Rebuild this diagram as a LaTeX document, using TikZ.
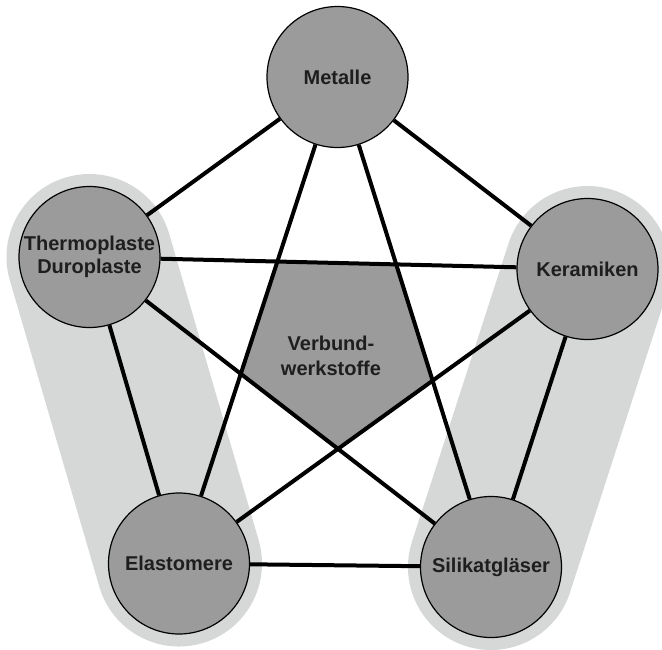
\documentclass[tikz,border=0pt]{standalone}
\usepackage{fontspec}
\setmainfont{Liberation Sans}
\usetikzlibrary{backgrounds}
\definecolor{nodegray}{HTML}{9B9B9B}
\definecolor{capsgray}{HTML}{D6D8D8}
\definecolor{txtgray}{HTML}{1E1E1E}
\begin{document}
\begin{tikzpicture}[x=1pt,y=-1pt,
  mat/.style={circle,draw=black,line width=1.2pt,fill=nodegray,minimum size=141pt,inner sep=0pt,
    align=center,text=txtgray,font=\bfseries\fontsize{20}{23.5}\selectfont},
  link/.style={draw=black,line width=4pt},
  capsule/.style={draw=capsgray,line width=166pt,line cap=round},
  lbl/.style={align=center,text=txtgray,font=\bfseries\fontsize{20}{24.5}\selectfont}]
\useasboundingbox (0,0) rectangle (662,649);
\node[mat] (m) at (337.5,77) {Metalle};
\node[mat] (t) at (89.5,257) {Thermoplaste\\Duroplaste};
\node[mat] (k) at (587.5,269) {Keramiken};
\node[mat] (e) at (179,563.5) {Elastomere};
\node[mat] (s) at (491,567) {Silikatgläser};
\begin{pgfonlayer}{background}
  \draw[capsule] (t.center) -- (e.center);
  \draw[capsule] (k.center) -- (s.center);
  \fill[nodegray]
    (intersection of t.center--k.center and m.center--e.center) --
    (intersection of t.center--k.center and m.center--s.center) --
    (intersection of m.center--s.center and k.center--e.center) --
    (intersection of k.center--e.center and t.center--s.center) --
    (intersection of t.center--s.center and m.center--e.center) -- cycle;
  \draw[link] (m) -- (t);
  \draw[link] (m) -- (k);
  \draw[link] (m) -- (e);
  \draw[link] (m) -- (s);
  \draw[link] (t) -- (k);
  \draw[link] (t) -- (e);
  \draw[link] (t) -- (s);
  \draw[link] (k) -- (e);
  \draw[link] (k) -- (s);
  \draw[link] (e) -- (s);
\end{pgfonlayer}
\node[lbl] (v) at (331,356) {Verbund-\\werkstoffe};
\end{tikzpicture}
\end{document}
